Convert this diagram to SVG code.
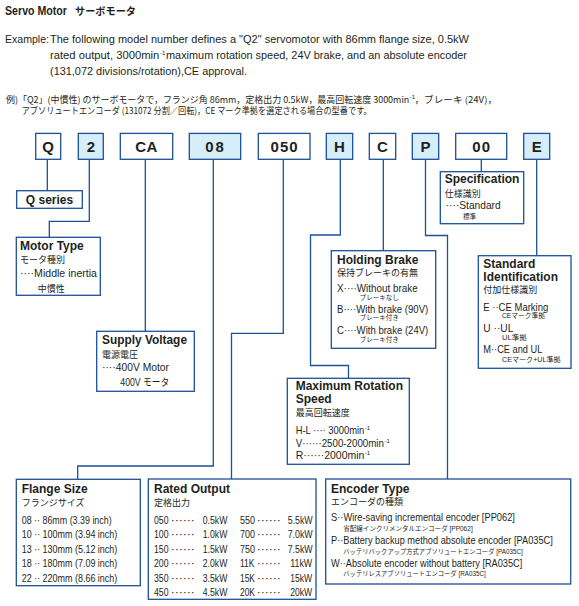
<svg xmlns="http://www.w3.org/2000/svg" width="579" height="606" viewBox="0 0 579 606">
<style>
.bx{fill:#fff;stroke:#1d4f9a;stroke-width:1.3}
.bf{fill:#d6edfa;stroke:#1d4f9a;stroke-width:1.3}
.cd{font-family:"Liberation Sans",Arial,sans-serif;font-weight:bold;font-size:15px;fill:#231f20;text-anchor:middle}
.t{font-family:"Liberation Sans",Arial,sans-serif;font-weight:bold;font-size:12px;fill:#231f20}
.b{font-family:"Liberation Sans","Noto Sans CJK JP",sans-serif;font-size:10.5px;fill:#231f20}
.j{font-family:"Noto Sans CJK JP",sans-serif;font-size:9px;fill:#231f20}
.s{font-family:"Liberation Sans","Noto Sans CJK JP",sans-serif;font-size:6.5px;fill:#231f20}
.e{font-family:"Liberation Sans",Arial,sans-serif;font-size:11.5px;fill:#231f20}
.sp{font-family:"Liberation Sans",Arial,sans-serif;font-size:6px;fill:#231f20}
.ln{fill:none;stroke:#1d4f9a;stroke-width:1.3}
</style>
<rect width="579" height="606" fill="#fff"/>
<g id="header">
<text x="5" y="15" class="t" font-size="12.5" textLength="62" lengthAdjust="spacingAndGlyphs">Servo Motor</text>
<text x="75" y="15" font-family="Noto Sans CJK JP,sans-serif" font-weight="bold" font-size="10.5" fill="#231f20" textLength="61" lengthAdjust="spacingAndGlyphs">サーボモータ</text>
<text x="5" y="43.3" class="e" textLength="44" lengthAdjust="spacingAndGlyphs">Example:</text>
<text x="50" y="43.3" class="e" textLength="419" lengthAdjust="spacingAndGlyphs">The following model number defines a "Q2" servomotor with 86mm flange size, 0.5kW</text>
<text class="e" transform="translate(50 59) scale(0.9 1)" textLength="121.4" lengthAdjust="spacingAndGlyphs">rated output, 3000min</text>
<text x="160" y="54.5" class="sp">-1</text>
<text x="166" y="59" class="e" textLength="301" lengthAdjust="spacingAndGlyphs">maximum rotation speed, 24V brake, and an absolute encoder</text>
<text x="50" y="75" class="e" textLength="197" lengthAdjust="spacingAndGlyphs">(131,072 divisions/rotation),CE approval.</text>
<text class="j" font-size="9.5" transform="translate(6 102.5) scale(0.92 1)" textLength="438.4" lengthAdjust="spacingAndGlyphs">例)「Q2」(中慣性) のサーボモータで，フランジ角 86mm，定格出力 0.5kW，最高回転速度 3000min</text>
<text x="409.8" y="98.5" class="sp" font-size="5.5">-1</text>
<text x="414.5" y="102.5" class="j" font-size="9.5" textLength="82.5" lengthAdjust="spacingAndGlyphs">，ブレーキ (24V)，</text>
<text x="21.7" y="113.5" class="j" font-size="9.5" textLength="350" lengthAdjust="spacingAndGlyphs">アブソリュートエンコーダ (131072 分割／回転)，CE マーク準拠を選定される場合の型番です。</text>
</g>
<g id="connectors">
<path class="ln" d="M47.3,159.3V190.7"/>
<path class="ln" d="M89.3,159.3V221.3H49.3V237.3"/>
<path class="ln" d="M145.3,159.3V331.3"/>
<path class="ln" d="M213.3,159.3V466H77.7V479.3"/>
<path class="ln" d="M283.3,159.3V333.3H231.5V479"/>
<path class="ln" d="M340.3,159.3V235H310.5V365.5H348.5V378.3"/>
<path class="ln" d="M383.3,159.3V250.7"/>
<path class="ln" d="M425.5,159.3V235.5H447.5V479"/>
<path class="ln" d="M481.3,159.3V171.7"/>
<path class="ln" d="M536.7,159.3V255.7"/>
</g>
<g id="code-Q"><rect class="bx" x="35.7" y="133.4" width="25" height="25.9"/><text class="cd" x="48.2" y="151.7">Q</text></g>
<g id="code-2"><rect class="bf" x="78.3" y="133.4" width="25" height="25.9"/><text class="cd" x="90.8" y="151.7">2</text></g>
<g id="code-CA"><rect class="bx" x="120.3" y="133.4" width="52.4" height="25.9"/><text class="cd" x="146.5" y="151.7" letter-spacing="0.5">CA</text></g>
<g id="code-08"><rect class="bf" x="189.3" y="133.4" width="51.4" height="25.9"/><text class="cd" x="215.5" y="151.7" letter-spacing="2">08</text></g>
<g id="code-050"><rect class="bx" x="258.3" y="133.4" width="51.7" height="25.9"/><text class="cd" x="284.6" y="151.7" letter-spacing="1">050</text></g>
<g id="code-H"><rect class="bf" x="326.3" y="133.4" width="26.4" height="25.9"/><text class="cd" x="339.5" y="151.7">H</text></g>
<g id="code-C"><rect class="bx" x="369.3" y="133.4" width="26.4" height="25.9"/><text class="cd" x="382.5" y="151.7">C</text></g>
<g id="code-P"><rect class="bf" x="412.3" y="133.4" width="26.4" height="25.9"/><text class="cd" x="425.5" y="151.7">P</text></g>
<g id="code-00"><rect class="bx" x="455.7" y="133.4" width="51" height="25.9"/><text class="cd" x="481.7" y="151.7" letter-spacing="1">00</text></g>
<g id="code-E"><rect class="bf" x="523.7" y="133.4" width="26" height="25.9"/><text class="cd" x="536.7" y="151.7">E</text></g>

<g id="q-series"><rect class="bx" x="16.7" y="190.7" width="65.6" height="17.6"/><text class="t" x="49.5" y="203.5" text-anchor="middle" font-size="11.5">Q series</text></g>

<g id="motor-type"><rect class="bx" x="16.3" y="237.3" width="84" height="58"/>
<text class="t" x="20" y="250">Motor Type</text>
<text class="j" x="20" y="263.3">モータ種別</text>
<text class="b" x="20" y="277.2" textLength="77" lengthAdjust="spacingAndGlyphs">····Middle inertia</text>
<text class="j" x="37.7" y="291.5">中慣性</text>
</g>

<g id="supply-voltage"><rect class="bx" x="96.7" y="331.3" width="97.6" height="60"/>
<text class="t" x="102" y="344" textLength="85" lengthAdjust="spacingAndGlyphs">Supply Voltage</text>
<text class="j" x="102" y="358">電源電圧</text>
<text class="b" x="102" y="371" textLength="67" lengthAdjust="spacingAndGlyphs">····400V Motor</text>
<text class="b" x="120.3" y="385.7" textLength="49" lengthAdjust="spacingAndGlyphs">400V モータ</text>
</g>

<g id="flange-size"><rect class="bx" x="16.3" y="479.3" width="124" height="106.4"/>
<text class="t" x="21.7" y="492.7">Flange Size</text>
<text class="j" x="21.7" y="506">フランジサイズ</text>
<text class="b" x="21.7" y="524" textLength="90" lengthAdjust="spacingAndGlyphs">08 ·· 86mm (3.39 inch)</text>
<text class="b" x="21.7" y="538.4" textLength="95.6" lengthAdjust="spacingAndGlyphs">10 ·· 100mm (3.94 inch)</text>
<text class="b" x="21.7" y="552.8" textLength="95.6" lengthAdjust="spacingAndGlyphs">13 ·· 130mm (5.12 inch)</text>
<text class="b" x="21.7" y="567.2" textLength="95.6" lengthAdjust="spacingAndGlyphs">18 ·· 180mm (7.09 inch)</text>
<text class="b" x="21.7" y="581.6" textLength="95.6" lengthAdjust="spacingAndGlyphs">22 ·· 220mm (8.66 inch)</text>
</g>

<g id="rated-output"><rect class="bx" x="148.3" y="479" width="167.7" height="120.3"/>
<text class="t" x="154" y="492.7">Rated Output</text>
<text class="j" x="154" y="506">定格出力</text>
<g class="b">
<text x="154" y="524" textLength="14.5" lengthAdjust="spacingAndGlyphs">050</text><text x="170.7" y="524" textLength="24" lengthAdjust="spacingAndGlyphs">······</text><text x="227.3" y="524" text-anchor="end" textLength="24.5" lengthAdjust="spacingAndGlyphs">0.5kW</text>
<text x="154" y="538.4" textLength="14.5" lengthAdjust="spacingAndGlyphs">100</text><text x="170.7" y="538.4" textLength="24" lengthAdjust="spacingAndGlyphs">······</text><text x="227.3" y="538.4" text-anchor="end" textLength="24.5" lengthAdjust="spacingAndGlyphs">1.0kW</text>
<text x="154" y="552.8" textLength="14.5" lengthAdjust="spacingAndGlyphs">150</text><text x="170.7" y="552.8" textLength="24" lengthAdjust="spacingAndGlyphs">······</text><text x="227.3" y="552.8" text-anchor="end" textLength="24.5" lengthAdjust="spacingAndGlyphs">1.5kW</text>
<text x="154" y="567.2" textLength="14.5" lengthAdjust="spacingAndGlyphs">200</text><text x="170.7" y="567.2" textLength="24" lengthAdjust="spacingAndGlyphs">······</text><text x="227.3" y="567.2" text-anchor="end" textLength="24.5" lengthAdjust="spacingAndGlyphs">2.0kW</text>
<text x="154" y="581.6" textLength="14.5" lengthAdjust="spacingAndGlyphs">350</text><text x="170.7" y="581.6" textLength="24" lengthAdjust="spacingAndGlyphs">······</text><text x="227.3" y="581.6" text-anchor="end" textLength="24.5" lengthAdjust="spacingAndGlyphs">3.5kW</text>
<text x="154" y="596" textLength="14.5" lengthAdjust="spacingAndGlyphs">450</text><text x="170.7" y="596" textLength="24" lengthAdjust="spacingAndGlyphs">······</text><text x="227.3" y="596" text-anchor="end" textLength="24.5" lengthAdjust="spacingAndGlyphs">4.5kW</text>
<text x="240" y="524" textLength="15" lengthAdjust="spacingAndGlyphs">550</text><text x="256.7" y="524" textLength="24" lengthAdjust="spacingAndGlyphs">······</text><text x="312.7" y="524" text-anchor="end" textLength="25" lengthAdjust="spacingAndGlyphs">5.5kW</text>
<text x="240" y="538.4" textLength="15" lengthAdjust="spacingAndGlyphs">700</text><text x="256.7" y="538.4" textLength="24" lengthAdjust="spacingAndGlyphs">······</text><text x="312.7" y="538.4" text-anchor="end" textLength="25" lengthAdjust="spacingAndGlyphs">7.0kW</text>
<text x="240" y="552.8" textLength="15" lengthAdjust="spacingAndGlyphs">750</text><text x="256.7" y="552.8" textLength="24" lengthAdjust="spacingAndGlyphs">······</text><text x="312.7" y="552.8" text-anchor="end" textLength="25" lengthAdjust="spacingAndGlyphs">7.5kW</text>
<text transform="translate(240 567.2) scale(0.78 1)" textLength="18.6" lengthAdjust="spacingAndGlyphs">11K</text><text x="256.7" y="567.2" textLength="24" lengthAdjust="spacingAndGlyphs">······</text><text x="312.2" y="567.2" text-anchor="end" textLength="22" lengthAdjust="spacingAndGlyphs">11kW</text>
<text transform="translate(240 581.6) scale(0.78 1)" textLength="19.2" lengthAdjust="spacingAndGlyphs">15K</text><text x="256.7" y="581.6" textLength="24" lengthAdjust="spacingAndGlyphs">······</text><text x="312.2" y="581.6" text-anchor="end" textLength="22" lengthAdjust="spacingAndGlyphs">15kW</text>
<text transform="translate(240 596) scale(0.78 1)" textLength="19.2" lengthAdjust="spacingAndGlyphs">20K</text><text x="256.7" y="596" textLength="24" lengthAdjust="spacingAndGlyphs">······</text><text x="312.2" y="596" text-anchor="end" textLength="22" lengthAdjust="spacingAndGlyphs">20kW</text>
</g>
</g>

<g id="holding-brake"><rect class="bx" x="331.3" y="250.7" width="104.4" height="97.6"/>
<text class="t" x="337" y="264">Holding Brake</text>
<text class="j" x="337" y="275.5">保持ブレーキの有無</text>
<text class="b" x="337" y="291.5" textLength="80.7" lengthAdjust="spacingAndGlyphs">X····Without brake</text>
<text class="s" x="359.7" y="299.5">ブレーキなし</text>
<text class="b" x="337" y="312.5" textLength="91.3" lengthAdjust="spacingAndGlyphs">B····With brake (90V)</text>
<text class="s" x="359.7" y="320">ブレーキ付き</text>
<text class="b" x="337" y="333.5" textLength="91.3" lengthAdjust="spacingAndGlyphs">C····With brake (24V)</text>
<text class="s" x="359.7" y="341.5">ブレーキ付き</text>
</g>

<g id="max-rotation-speed"><rect class="bx" x="287.3" y="378.3" width="122" height="86"/>
<text class="t" x="295.7" y="390">Maximum Rotation</text>
<text class="t" x="295.7" y="403">Speed</text>
<text class="j" x="295.7" y="415.5">最高回転速度</text>
<text class="b" transform="translate(295.7 434) scale(0.88 1)" textLength="78" lengthAdjust="spacingAndGlyphs">H-L ···· 3000min</text>
<text class="sp" x="364.8" y="430" font-size="5.5">-1</text>
<text class="b" transform="translate(295.7 446.5) scale(0.88 1)" textLength="100.3" lengthAdjust="spacingAndGlyphs">V······2500-2000min</text>
<text class="sp" x="384.5" y="442.5" font-size="5.5">-1</text>
<text class="b" transform="translate(295.7 459) scale(0.88 1)" textLength="78" lengthAdjust="spacingAndGlyphs">R······2000min</text>
<text class="sp" x="364.8" y="455" font-size="5.5">-1</text>
</g>

<g id="encoder-type"><rect class="bx" x="325.7" y="479" width="245" height="105"/>
<text class="t" x="331" y="492.7">Encoder Type</text>
<text class="j" x="331" y="505">エンコーダの種類</text>
<text class="b" transform="translate(331 520.7) scale(0.88 1)" textLength="209" lengthAdjust="spacingAndGlyphs">S··Wire-saving incremental encoder [PP062]</text>
<text class="s" x="343.3" y="530.5" textLength="129.4" lengthAdjust="spacingAndGlyphs">省配線インクリメンタルエンコーダ [PP062]</text>
<text class="b" transform="translate(331 544) scale(0.88 1)" textLength="252" lengthAdjust="spacingAndGlyphs">P··Battery backup method absolute encoder [PA035C]</text>
<text class="s" x="343.3" y="553.5" textLength="179.4" lengthAdjust="spacingAndGlyphs">バッテリバックアップ方式アブソリュートエンコーダ [PA035C]</text>
<text class="b" transform="translate(331 566.7) scale(0.88 1)" textLength="217.4" lengthAdjust="spacingAndGlyphs">W··Absolute encoder without battery [RA035C]</text>
<text class="s" x="343.3" y="576" textLength="142.4" lengthAdjust="spacingAndGlyphs">バッテリレスアブソリュートエンコーダ [RA035C]</text>
</g>

<g id="specification"><rect class="bx" x="440.3" y="171.7" width="83.4" height="52"/>
<text class="t" x="444.7" y="183.3">Specification</text>
<text class="j" x="444.7" y="196.7">仕様識別</text>
<text class="b" x="445.7" y="208.5" textLength="55" lengthAdjust="spacingAndGlyphs">····Standard</text>
<text class="s" x="463" y="218.5" font-size="7">標準</text>
</g>

<g id="standard-identification"><rect class="bx" x="478.3" y="255.7" width="92.7" height="112.6"/>
<text class="t" x="483.3" y="267.5">Standard</text>
<text class="t" x="483.3" y="280.7">Identification</text>
<text class="j" x="483.3" y="292.7">付加仕様識別</text>
<text class="b" x="483.3" y="311" textLength="65" lengthAdjust="spacingAndGlyphs">E ··CE Marking</text>
<text class="s" x="502" y="318" textLength="43" lengthAdjust="spacingAndGlyphs">CEマーク準拠</text>
<text class="b" x="483.3" y="332.3" textLength="30" lengthAdjust="spacingAndGlyphs">U ··UL</text>
<text class="s" x="502" y="340" textLength="24.7" lengthAdjust="spacingAndGlyphs">UL準拠</text>
<text class="b" x="483.3" y="353.3" textLength="59" lengthAdjust="spacingAndGlyphs">M··CE and UL</text>
<text class="s" x="502" y="361.7" textLength="58.7" lengthAdjust="spacingAndGlyphs">CEマーク+UL準拠</text>
</g>
</svg>
